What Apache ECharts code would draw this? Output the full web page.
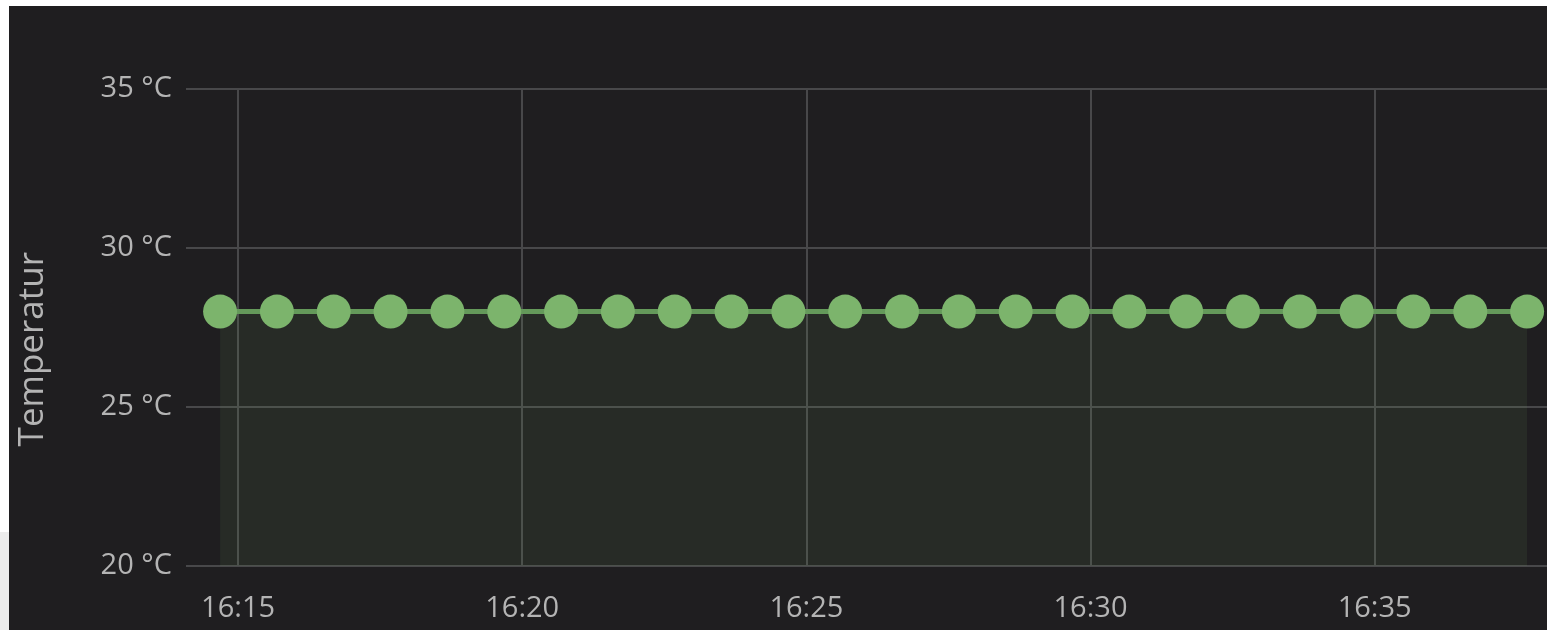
<!DOCTYPE html>
<html>
<head>
<meta charset="utf-8">
<script src="https://cdn.jsdelivr.net/npm/echarts@6/dist/echarts.min.js"></script>
<style>
  html, body { margin:0; padding:0; background:#ffffff; width:1547px; height:630px; overflow:hidden; }
  #strip { position:absolute; left:0; top:532px; width:9px; height:98px; background:#ececec; }
  #chart { position:absolute; left:9px; top:6px; width:1538px; height:624px; background:#1f1e20; }
</style>
</head>
<body>
<div id="strip"></div>
<div id="chart"></div>
<script>
// ---- data ----
const day = '2024-01-01';
const times = ['16:14:41','16:15:41','16:16:41','16:17:41','16:18:41','16:19:41',
               '16:20:41','16:21:41','16:22:41','16:23:41','16:24:41','16:25:41',
               '16:26:41','16:27:41','16:28:41','16:29:41','16:30:41','16:31:41',
               '16:32:41','16:33:41','16:34:41','16:35:41','16:36:41','16:37:41'];
const temps = [28,28,28,28,28,28,28,28,28,28,28,28,28,28,28,28,28,28,28,28,28,28,28,28];
const xTickLabels = ['16:15','16:20','16:25','16:30','16:35'];
const yTicks = [20,25,30,35];
const axisName = 'Temperatur';
const xMin = '16:14:05';
const xMax = '16:38:02';

const toTs = t => new Date(day + 'T' + (t.length === 5 ? t + ':00' : t)).getTime();
const seriesData = times.map((t, i) => [toTs(t), temps[i]]);
const xTickValues = xTickLabels.map(toTs);
const pad = n => String(n).padStart(2, '0');

const chart = echarts.init(document.getElementById('chart'), null, {renderer:'canvas'});
chart.setOption({
  backgroundColor: '#1f1e20',
  animation: false,
  textStyle: { fontFamily: 'Open Sans' },
  grid: { left: 177, right: 0, top: 83, bottom: 64, containLabel: false, outerBoundsMode: 'none' },
  xAxis: {
    type: 'value',
    min: toTs(xMin),
    max: toTs(xMax),
    axisLine: { show: false },
    axisTick: { show: false, customValues: xTickValues },
    splitLine: { show: true, lineStyle: { color: '#48484a', width: 2 } },
    axisLabel: {
      customValues: xTickValues,
      color: '#b4b4b4', fontSize: 29, margin: 28, fontFamily: 'Open Sans',
      hideOverlap: false,
      formatter: v => { const d = new Date(v); return pad(d.getHours()) + ':' + pad(d.getMinutes()); }
    }
  },
  yAxis: {
    type: 'value',
    min: yTicks[0], max: yTicks[yTicks.length - 1], interval: 5,
    axisLine: { show: false },
    axisTick: { show: false },
    splitLine: { show: true, lineStyle: { color: '#48484a', width: 2 } },
    axisLabel: { color: '#b4b4b4', fontSize: 29, margin: 14, fontFamily: 'Open Sans',
                 formatter: '{value} °C' }
  },
  graphic: [{
    type: 'text',
    left: 7, top: 246,
    rotation: Math.PI / 2,
    style: { text: axisName, fill: '#b4b4b4', font: '35px "Open Sans"' }
  }],
  series: [{
    type: 'line',
    data: seriesData,
    symbol: 'circle',
    symbolSize: 34,
    itemStyle: { color: '#7cb46c' },
    lineStyle: { color: '#64995a', width: 5 },
    areaStyle: { color: 'rgba(124,180,108,0.12)', origin: 'start' }
  }]
});
</script>
</body>
</html>
